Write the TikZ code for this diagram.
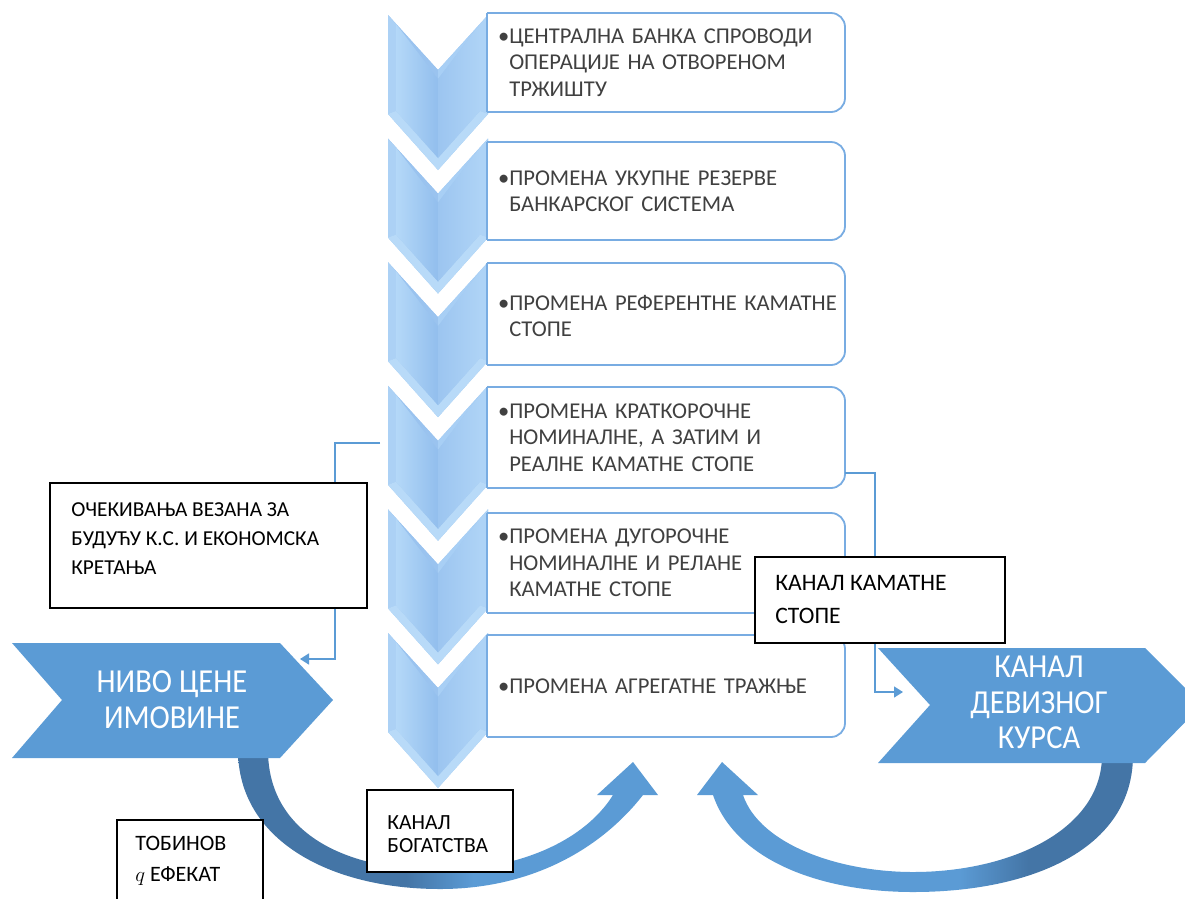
\documentclass[tikz,border=0pt]{standalone}
\usepackage{fontspec}
\setmainfont{Carlito}
\usepackage{graphicx}
\usetikzlibrary{arrows.meta}

\definecolor{banner}{RGB}{91,155,213}
\definecolor{bannerdk}{RGB}{68,117,166}
\definecolor{connc}{RGB}{91,155,213}
\definecolor{frameb}{RGB}{120,172,226}
\definecolor{txtgray}{RGB}{64,64,64}
\definecolor{chbase}{RGB}{160,200,242}
\definecolor{chA}{RGB}{180,216,248}
\definecolor{chB}{RGB}{146,190,237}
\definecolor{chC}{RGB}{156,197,240}
\definecolor{chD}{RGB}{174,211,246}
\definecolor{chBot}{RGB}{184,218,248}
\definecolor{chEdge}{RGB}{172,209,245}
\definecolor{chTopL}{RGB}{154,195,239}
\definecolor{chTopR}{RGB}{168,207,245}

\pgfdeclarehorizontalshading{leftarr}{100bp}{color(0bp)=(bannerdk); color(45bp)=(bannerdk); color(53bp)=(banner); color(100bp)=(banner)}
\pgfdeclarehorizontalshading{rightarr}{100bp}{color(0bp)=(banner); color(55bp)=(banner); color(63bp)=(bannerdk); color(100bp)=(bannerdk)}

\newcommand{\chevshape}[1]{%
  \fill[chbase] (388,#1) -- (438,#1+55) -- (488,#1) -- (488,#1+99) -- (438,#1+155) -- (388,#1+99) -- cycle;
  \fill[chTopL] (388,#1) -- (438,#1+55) -- (438,#1+64) -- (396,#1+9) -- cycle;
  \fill[chTopR] (438,#1+55) -- (488,#1) -- (480,#1+9) -- (438,#1+64) -- cycle;
  \fill[chEdge] (388,#1) -- (396,#1+9) -- (396,#1+96) -- (388,#1+99) -- cycle;
  \fill[chD] (488,#1) -- (488,#1+99) -- (480,#1+96) -- (480,#1+9) -- cycle;
  \fill[chBot] (388,#1+99) -- (438,#1+155) -- (488,#1+99) -- (480,#1+96) -- (438,#1+143) -- (396,#1+96) -- cycle;
  \shade[left color=chA, right color=chB] (396,#1+9) -- (438,#1+64) -- (438,#1+143) -- (396,#1+96) -- cycle;
  \shade[left color=chC, right color=chD] (438,#1+64) -- (480,#1+9) -- (480,#1+96) -- (438,#1+143) -- cycle;
}
\newcommand{\cframe}[2]{%
  \begin{scope}
    \clip (487,#1-3) rectangle (849,#2+3);
    \draw[cframestyle] (450,#1) rectangle (845,#2);
  \end{scope}
  \draw[cframestyle, fill=none, sharp corners] (487,#1) -- (487,#2);
}

\begin{document}
\begin{tikzpicture}[x=1pt,y=-1pt,
  cframestyle/.style={draw=frameb, line width=1.8pt, fill=white, rounded corners=14pt},
  cbox/.style={minimum width=358pt, minimum height=100pt, text width=336pt, inner xsep=11pt, inner ysep=0pt, align=left, font=\fontsize{22.6}{26.5}\selectfont, text=txtgray},
  bantext/.style={text=white, align=center, inner sep=0pt},
  conn/.style={draw=connc, line width=1.5pt, -{Triangle[length=9pt,width=11pt]}},
  blackbox/.style={draw=black, line width=1.6pt, fill=white},
  btext/.style={align=left, text=black, inner sep=0pt, anchor=west}
]
\useasboundingbox (0,0) rectangle (1185,898);

% chevrons
\foreach \t in {15,138.6,262.2,385.8,509.4,633}{\chevshape{\t}}

% step boxes
\cframe{13}{112}
\cframe{142}{240}
\cframe{263}{365}
\cframe{387}{488}
\cframe{513}{613}
\cframe{635}{737}

\node[cbox] (box1) at (666,62.5) {\mbox{•ЦЕНТРАЛНА БАНКА СПРОВОДИ}\\\mbox{\hphantom{•}ОПЕРАЦИЈЕ НА ОТВОРЕНОМ}\\\mbox{\hphantom{•}ТРЖИШТУ}};
\node[cbox] (box2) at (666,191) {\mbox{•ПРОМЕНА УКУПНЕ РЕЗЕРВЕ}\\\mbox{\hphantom{•}БАНКАРСКОГ СИСТЕМА}};
\node[cbox] (box3) at (666,316) {\mbox{•ПРОМЕНА РЕФЕРЕНТНЕ КАМАТНЕ}\\\mbox{\hphantom{•}СТОПЕ}};
\node[cbox] (box4) at (666,437.5) {\mbox{•ПРОМЕНА КРАТКОРОЧНЕ}\\\mbox{\hphantom{•}НОМИНАЛНЕ, А ЗАТИМ И}\\\mbox{\hphantom{•}РЕАЛНЕ КАМАТНЕ СТОПЕ}};
\node[cbox] (box5) at (666,563) {\mbox{•ПРОМЕНА ДУГОРОЧНЕ}\\\mbox{\hphantom{•}НОМИНАЛНЕ И РЕЛАНЕ}\\\mbox{\hphantom{•}КАМАТНЕ СТОПЕ}};
\node[cbox] (box6) at (666,686) {\mbox{•ПРОМЕНА АГРЕГАТНЕ ТРАЖЊЕ}};

% curved arrows
\shade[shading=leftarr] (238,750) .. controls (238,840) and (330,889) .. (440,889)
  .. controls (530,889) and (600,850) .. (643,795) -- (658,795) -- (633,762) -- (597,795) -- (613,795)
  .. controls (585,840) and (520,870) .. (440,870) .. controls (340,870) and (268,830) .. (268,750) -- cycle;
\shade[shading=rightarr] (713,795) .. controls (735,860) and (820,892) .. (913,892)
  .. controls (1030,892) and (1133,850) .. (1133,755) -- (1102,755)
  .. controls (1102,830) and (1010,872) .. (913,872) .. controls (840,872) and (760,845) .. (743,795)
  -- (758,795) -- (722,762) -- (697,795) -- cycle;

% banners
\fill[banner] (12,643) -- (280,643) -- (333,700) -- (280,758) -- (12,758) -- (62,700) -- cycle;
\fill[banner] (878,648) -- (1145,648) -- (1202,705) -- (1145,763) -- (878,763) -- (930,705) -- cycle;
\node[bantext] (nivo) at (172,703) {\scalebox{1}[1.1]{\fontsize{30.5}{32.5}\selectfont\begin{tabular}{@{}c@{}}НИВО ЦЕНЕ\\ИМОВИНЕ\end{tabular}}};
\node[bantext] (kanal) at (1039,706) {\scalebox{1}[1.1]{\fontsize{30.5}{32.5}\selectfont\begin{tabular}{@{}c@{}}КАНАЛ\\ДЕВИЗНОГ\\КУРСА\end{tabular}}};

% connectors
\coordinate (lstart) at (380,443);
\coordinate (nivoIn) at (300,659);
\coordinate (kanalIn) at (903,692);
\draw[conn] (lstart) -- ++(-45,0) |- (nivoIn);
\draw[conn] ([yshift=-35.5pt]box4.east) -- ++(30,0) |- (kanalIn);

% black text boxes
\node[blackbox, minimum width=317pt, minimum height=125pt] (ocek) at (208.5,545.5) {};
\node[btext, font=\fontsize{21.3}{29}\selectfont] (ocekT) at ([xshift=22pt,yshift=7pt]ocek.west) {ОЧЕКИВАЊА ВЕЗАНА ЗА\\БУДУЋУ К.С. И ЕКОНОМСКА\\КРЕТАЊА};
\node[blackbox, minimum width=250pt, minimum height=86pt] (kamat) at (880,600) {};
\node[btext, font=\fontsize{23.6}{33}\selectfont] (kamatT) at ([xshift=21pt,yshift=1pt]kamat.west) {КАНАЛ КАМАТНЕ\\СТОПЕ};
\node[blackbox, minimum width=146pt, minimum height=82pt] (bogat) at (440,831) {};
\node[btext, font=\fontsize{21.6}{23}\selectfont] (bogatT) at ([xshift=21pt,yshift=-3pt]bogat.west) {КАНАЛ\\БОГАТСТВА};
\node[blackbox, minimum width=146pt, minimum height=89pt] (tobin) at (190,864.5) {};
\node[btext, font=\fontsize{22}{31}\selectfont] (tobinT) at ([xshift=19pt,yshift=3.5pt]tobin.west) {ТОБИНОВ\\$q$ ЕФЕКАТ};
\end{tikzpicture}
\end{document}
